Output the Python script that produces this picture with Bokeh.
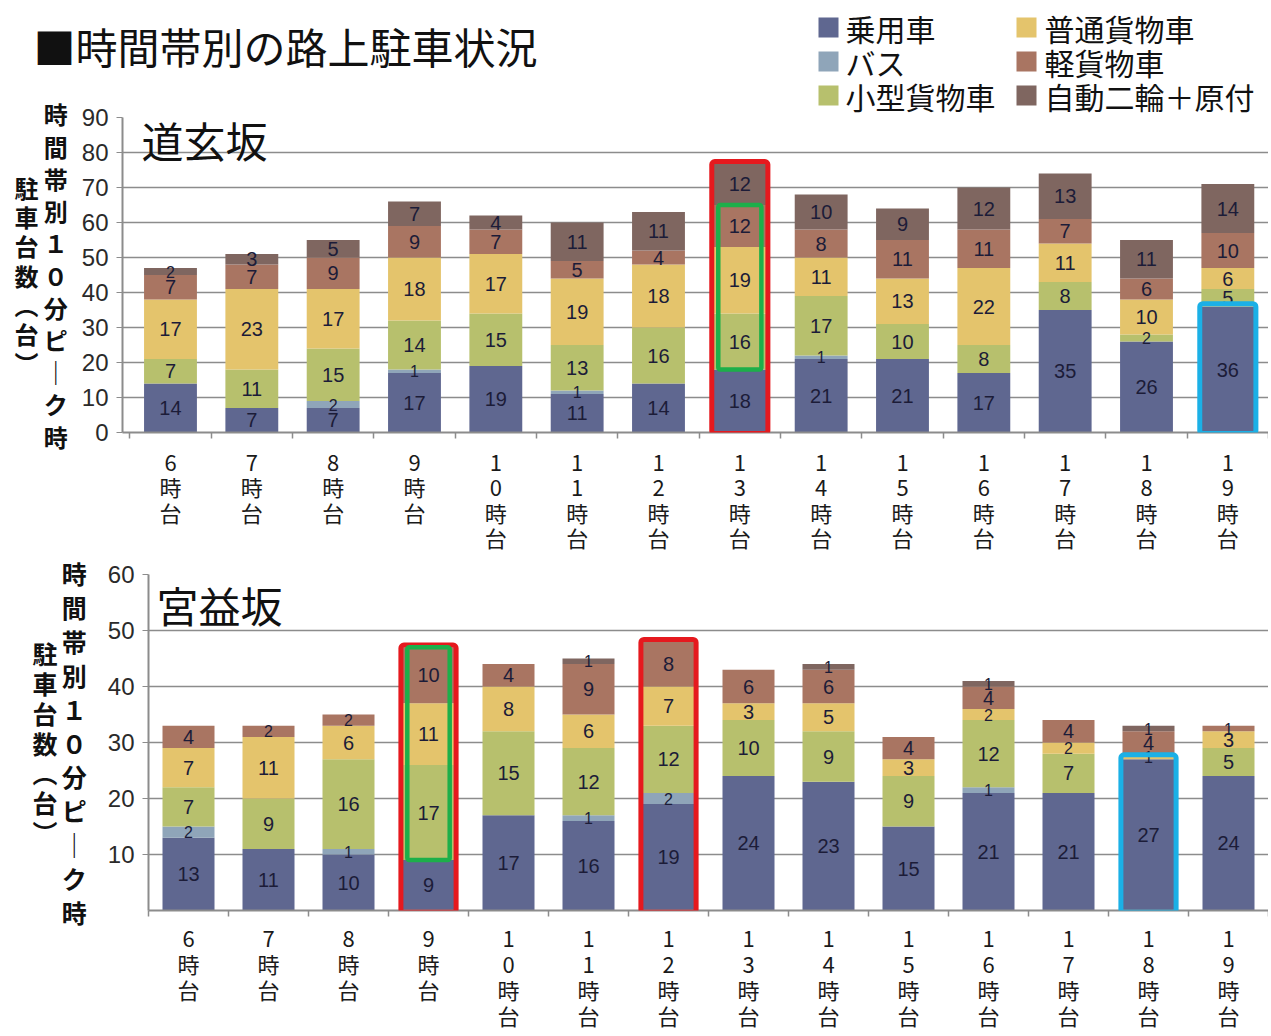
import numpy as np
from bokeh.plotting import figure
from bokeh.models import (Range1d, FixedTicker, Label, BoxAnnotation, ColumnDataSource,
                          LinearAxis)
from bokeh.embed import file_html
from bokeh.resources import INLINE
from bokeh.core.properties import value

# ---------------- data ----------------
hours = ["6時台", "7時台", "8時台", "9時台", "10時台", "11時台", "12時台",
         "13時台", "14時台", "15時台", "16時台", "17時台", "18時台", "19時台"]
series = ["乗用車", "バス", "小型貨物車", "普通貨物車", "軽貨物車", "自動二輪＋原付"]
colors = ["#5f6790", "#8fa5b9", "#b7c06d", "#e4c46c", "#a97562", "#7f6660"]

# 道玄坂
dogen_jouyou = [14, 7, 7, 17, 19, 11, 14, 18, 21, 21, 17, 35, 26, 36]
dogen_bus = [0, 0, 2, 1, 0, 1, 0, 0, 1, 0, 0, 0, 0, 0]
dogen_kogata = [7, 11, 15, 14, 15, 13, 16, 16, 17, 10, 8, 8, 2, 5]
dogen_futsuu = [17, 23, 17, 18, 17, 19, 18, 19, 11, 13, 22, 11, 10, 6]
dogen_kei = [7, 7, 9, 9, 7, 5, 4, 12, 8, 11, 11, 7, 6, 10]
dogen_nirin = [2, 3, 5, 7, 4, 11, 11, 12, 10, 9, 12, 13, 11, 14]

# 宮益坂
miya_jouyou = [13, 11, 10, 9, 17, 16, 19, 24, 23, 15, 21, 21, 27, 24]
miya_bus = [2, 0, 1, 0, 0, 1, 2, 0, 0, 0, 1, 0, 0, 0]
miya_kogata = [7, 9, 16, 17, 15, 12, 12, 10, 9, 9, 12, 7, 0, 5]
miya_futsuu = [7, 11, 6, 11, 8, 6, 7, 3, 5, 3, 2, 2, 1, 3]
miya_kei = [4, 2, 2, 10, 4, 9, 8, 6, 6, 4, 4, 4, 4, 1]
miya_nirin = [0, 0, 0, 0, 0, 1, 0, 0, 1, 0, 1, 0, 1, 0]

dogen_yticks = [0, 10, 20, 30, 40, 50, 60, 70, 80, 90]
miya_yticks = [10, 20, 30, 40, 50, 60]

# highlighted bars / segment ranges
dogen_red = ["13時台"]
dogen_green = [("13時台", "小型貨物車", "軽貨物車")]
dogen_blue = [("19時台", "乗用車", "乗用車")]
miya_red = ["9時台", "12時台"]
miya_green = [("9時台", "小型貨物車", "軽貨物車")]
miya_blue = [("18時台", "乗用車", "乗用車")]

title_text = "■時間帯別の路上駐車状況"
ytitle_inner = "時間帯別１０分ピ｜ク時"
ytitle_outer = "駐車台数︵台︶"

JP = "Noto Sans CJK JP"
NUM = "Liberation Sans"
BAR_W = 0.65
W = 1268
HEAD_H = 120
P1_TOP = 96          # top chart overlaps the header's empty lower strip
P2_TOP = 556
P2_H = 478
CJK_METRIC = 1.448   # font box height of Noto Sans CJK in em


class Geo:
    def __init__(self, page_top, height, fl, fr, ft, fb, xr, yr):
        self.page_top, self.height = page_top, height
        self.fl, self.fr, self.ft, self.fb = fl, fr, ft, fb
        self.xr, self.yr = xr, yr

    def dx(self, px):
        return self.xr[0] + (px - self.fl) * (self.xr[1] - self.xr[0]) / (self.fr - self.fl)

    def dy(self, py):
        return self.yr[0] + (self.fb - py) * (self.yr[1] - self.yr[0]) / (self.fb - self.ft)


def make_chart(g, vals, yticks, name, name_pos, xlab_px, xlab_lh, xstand, ylab,
               yl_std_in, yl_std_out, red, green, blue):
    p = figure(width=W, height=g.height, output_backend="svg", toolbar_location=None,
               x_range=Range1d(*g.xr), y_range=Range1d(*g.yr),
               min_border_left=g.fl, min_border_right=0,
               min_border_top=g.ft - g.page_top,
               min_border_bottom=g.page_top + g.height - g.fb)
    p.outline_line_color = None
    p.background_fill_color = "white"
    p.border_fill_alpha = 0
    centers = np.arange(1, len(hours) + 1)
    data = {"x": centers}
    for s, v in zip(series, vals):
        data[s] = v
    src = ColumnDataSource(data)
    p.vbar_stack(series, x="x", width=BAR_W, color=colors, line_color=None, source=src)

    # value labels in the segments
    lx, ly, lt, ls = [], [], [], []
    cum = np.zeros(len(hours))
    for v in vals:
        v = np.array(v, dtype=float)
        for i in range(len(hours)):
            if v[i] > 0:
                lx.append(centers[i])
                ly.append(cum[i] + v[i] / 2)
                lt.append(str(int(v[i])))
                ls.append("20px" if v[i] >= 3 else "16px")
        cum = cum + v
    p.text(x="x", y="y", text="t", text_font_size="s",
           source=ColumnDataSource(dict(x=lx, y=ly, t=lt, s=ls)),
           text_align="center", text_baseline="middle", text_color="#1c1c38",
           text_font=value(NUM))

    # highlight boxes
    stack = np.cumsum(np.array(vals, dtype=float), axis=0)
    totals = stack[-1]

    def seg_range(h, s0, s1):
        i = hours.index(h)
        a, b = series.index(s0), series.index(s1)
        lo = stack[a - 1][i] if a > 0 else 0.0
        return i, lo, stack[b][i]

    half = BAR_W / 2
    for h in red:
        i = hours.index(h)
        p.add_layout(BoxAnnotation(left=centers[i] - half - 0.02, right=centers[i] + half + 0.02,
                                   bottom=-0.3, top=totals[i] + 0.4, fill_alpha=0,
                                   line_color="#e5191e", line_alpha=1, line_width=5,
                                   border_radius=3))
    for h, s0, s1 in green:
        i, lo, hi = seg_range(h, s0, s1)
        p.add_layout(BoxAnnotation(left=centers[i] - half + 0.06, right=centers[i] + half - 0.06,
                                   bottom=lo, top=hi, fill_alpha=0,
                                   line_color="#1daf4a", line_alpha=1, line_width=4.5,
                                   border_radius=2))
    for h, s0, s1 in blue:
        i, lo, hi = seg_range(h, s0, s1)
        p.add_layout(BoxAnnotation(left=centers[i] - half - 0.02, right=centers[i] + half + 0.02,
                                   bottom=lo - 0.3, top=hi + 0.8, fill_alpha=0,
                                   line_color="#1bb0e6", line_alpha=1, line_width=5,
                                   border_radius=3))

    # x axis: labels at bar centres, tick marks between bars
    xa = p.xaxis[0]
    xa.ticker = FixedTicker(ticks=[float(c) for c in centers],
                            minor_ticks=[float(c) - 0.5 for c in centers] + [len(hours) + 0.5])
    xa.major_label_overrides = {float(c): "\n".join(h) for c, h in zip(centers, hours)}
    xa.major_tick_out = 0
    xa.major_tick_in = 0
    xa.minor_tick_out = 6
    xa.minor_tick_in = 0
    xa.minor_tick_line_color = "#8c8c8c"
    xa.minor_tick_line_width = 1.5
    xa.axis_line_color = "#8c8c8c"
    xa.axis_line_width = 2
    xa.major_label_text_font = JP
    xa.major_label_text_font_size = "%dpx" % xlab_px
    xa.major_label_text_line_height = xlab_lh / (xlab_px * CJK_METRIC)
    xa.major_label_standoff = xstand
    xa.major_label_text_color = "#1a1a1a"

    # y axis with vertical (stacked) title
    ya = p.yaxis[0]
    ya.ticker = FixedTicker(ticks=yticks)
    ya.major_tick_out = 6
    ya.major_tick_in = 0
    ya.minor_tick_line_color = None
    ya.major_tick_line_color = "#8c8c8c"
    ya.axis_line_color = "#8c8c8c"
    ya.axis_line_width = 2
    ya.major_label_text_font = NUM
    ya.major_label_text_font_size = "24px"
    ya.major_label_text_color = "#2a2a2a"
    ya.major_label_standoff = 8

    fs, lh_in, lh_out, inner_txt = ylab
    ya.axis_label = "\n".join(inner_txt)
    ya.axis_label_orientation = "horizontal"
    ya.axis_label_text_font = JP
    ya.axis_label_text_font_size = "%dpx" % fs
    ya.axis_label_text_font_style = "bold"
    ya.axis_label_text_color = "#111111"
    ya.axis_label_text_line_height = lh_in / (fs * CJK_METRIC)
    ya.axis_label_standoff = yl_std_in

    outer = LinearAxis(ticker=FixedTicker(ticks=[]), axis_line_color=None,
                       major_tick_line_color=None, minor_tick_line_color=None,
                       major_label_text_font_size="0px", major_tick_out=0, major_tick_in=0,
                       axis_label="\n".join(ytitle_outer), axis_label_orientation="horizontal",
                       axis_label_text_font=JP, axis_label_text_font_size="%dpx" % fs,
                       axis_label_text_font_style="bold", axis_label_text_color="#111111",
                       axis_label_text_line_height=lh_out / (fs * CJK_METRIC),
                       axis_label_standoff=yl_std_out)
    p.add_layout(outer, "left")

    p.xgrid.visible = False
    p.ygrid.ticker = FixedTicker(ticks=yticks)
    p.ygrid.grid_line_color = "#8c8c8c"
    p.ygrid.grid_line_width = 1.5

    p.add_layout(Label(x=g.dx(name_pos[0]), y=g.dy(name_pos[1]), text=name, text_font=JP,
                       text_font_size="42px", text_align="left", text_baseline="middle",
                       text_color="#111111"))
    return p


g1 = Geo(P1_TOP, P2_TOP - P1_TOP, 122, W, 117, 432, (0.41, 14.5), (0, 90))
g2 = Geo(P2_TOP, P2_H, 148, W, 574, 910, (0.5, 14.5), (0, 60))

p1 = make_chart(g1, [dogen_jouyou, dogen_bus, dogen_kogata, dogen_futsuu, dogen_kei, dogen_nirin],
                dogen_yticks, "道玄坂", (141, 139), 22, 25.4, 6,
                (24, 32, 29, ytitle_inner), 11, 2, dogen_red, dogen_green, dogen_blue)
p2 = make_chart(g2, [miya_jouyou, miya_bus, miya_kogata, miya_futsuu, miya_kei, miya_nirin],
                miya_yticks, "宮益坂", (156, 604), 22, 26, 4,
                (25, 34, 30, ytitle_inner), 18, 1, miya_red, miya_green, miya_blue)
p1.margin = (P1_TOP - HEAD_H, 0, 0, 0)

# ---------------- header: title and legend ----------------
head = figure(width=W, height=HEAD_H, output_backend="svg", toolbar_location=None,
              x_range=Range1d(0, W), y_range=Range1d(HEAD_H, 0),
              x_axis_type=None, y_axis_type=None,
              min_border_left=0, min_border_right=0, min_border_top=0, min_border_bottom=0)
head.outline_line_color = None
head.xgrid.visible = False
head.ygrid.visible = False
head.text(x=[33], y=[45], text=[title_text], text_font=value(JP), text_font_size="42px",
          text_align="left", text_baseline="middle", text_color="#111111")

leg_rows = [27, 61, 95]
leg_cols = [(828, 845), (1026, 1044)]
sq_x, sq_y, tx_x, tx_y = [], [], [], []
for k in range(len(series)):
    col, row = divmod(k, 3)
    sq_x.append(leg_cols[col][0])
    tx_x.append(leg_cols[col][1])
    sq_y.append(leg_rows[row])
    tx_y.append(leg_rows[row])
head.rect(x=sq_x, y=sq_y, width=20, height=20, fill_color=colors, line_color=None)
head.text(x=tx_x, y=tx_y, text=series, text_font=value(JP), text_font_size="30px",
          text_align="left", text_baseline="middle", text_color="#111111")

open("out.html", "w").write(file_html([head, p1, p2], INLINE))
